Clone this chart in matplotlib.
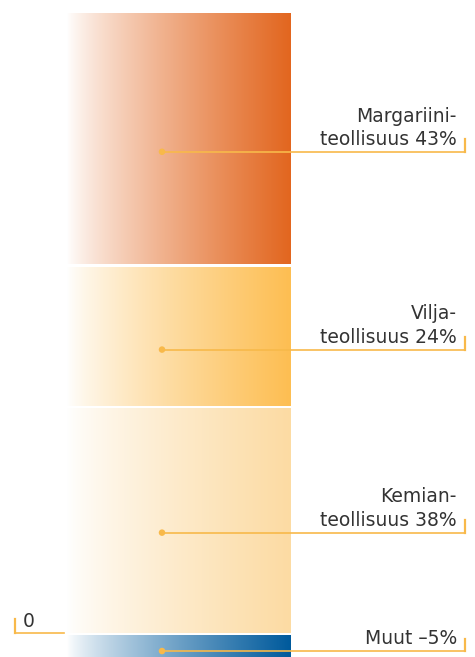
import matplotlib.pyplot as plt
import numpy as np
from matplotlib.colors import to_rgb

# data (percent shares, stacked bottom -> top; negative one below zero)
names = ["Kemian-\nteollisuus", "Vilja-\nteollisuus", "Margariini-\nteollisuus", "Muut"]
values = [38, 24, 43, -5]
colors = ["#FCDBA3", "#FDBE52", "#E2661F", "#005A9C"]

BAR_X0, BAR_X1 = 67, 291
DOT_X = 162
LINE_X1 = 465
line_col = "#F8B94A"
text_col = "#333333"


def gradient(ax, x0, x1, y0, y1, color):
    c = np.array(to_rgb(color))
    t = np.linspace(0, 1, 256) ** 0.8
    img = (1 - t)[:, None] * np.ones(3) + t[:, None] * c
    ax.imshow(img[None, :, :], extent=(x0, x1, y0, y1), aspect="auto",
              interpolation="bilinear", zorder=1)


fig = plt.figure(figsize=(4.75, 6.57), dpi=100)
ax = fig.add_axes([0, 0, 1, 1])
ax.set_xlim(0, 475)
ax.set_ylim(-4.06, 107.2)
ax.axis("off")

gap = 0.5
bottom = 0
for name, v, col in zip(names, values, colors):
    if v >= 0:
        y0, y1 = bottom, bottom + v
        bottom += v
        lo, hi = (y0 + gap if y0 > 0 else y0), y1
    else:
        y0, y1 = v, 0
        lo, hi = y0, y1 - gap
    gradient(ax, BAR_X0, BAR_X1, lo, hi, col)

    mid = (y0 + y1) / 2
    ly = mid - 2.0 if v > 0 else mid - 0.55
    ax.plot([DOT_X, LINE_X1], [ly, ly], color=line_col, lw=1.2, zorder=3)
    ax.plot([LINE_X1, LINE_X1], [ly, ly + 2.1], color=line_col, lw=1.6, zorder=3)
    ax.scatter([DOT_X], [ly], s=22, color=line_col, zorder=4, edgecolors="none")
    if v < 0:
        label = "{} \u2013{}%".format(name, -v)
    else:
        label = "{} {}%".format(name, v)
    ax.text(457, ly + 0.45, label, ha="right", va="bottom", fontsize=13.5,
            color=text_col, linespacing=1.3, zorder=5)

# zero marker
ax.plot([15, 64], [0, 0], color=line_col, lw=1.2)
ax.plot([15, 15], [0, 2.3], color=line_col, lw=1.6)
ax.text(23, 0.35, "0", ha="left", va="bottom", fontsize=13.5, color=text_col)

plt.savefig("out.png", dpi=100)
